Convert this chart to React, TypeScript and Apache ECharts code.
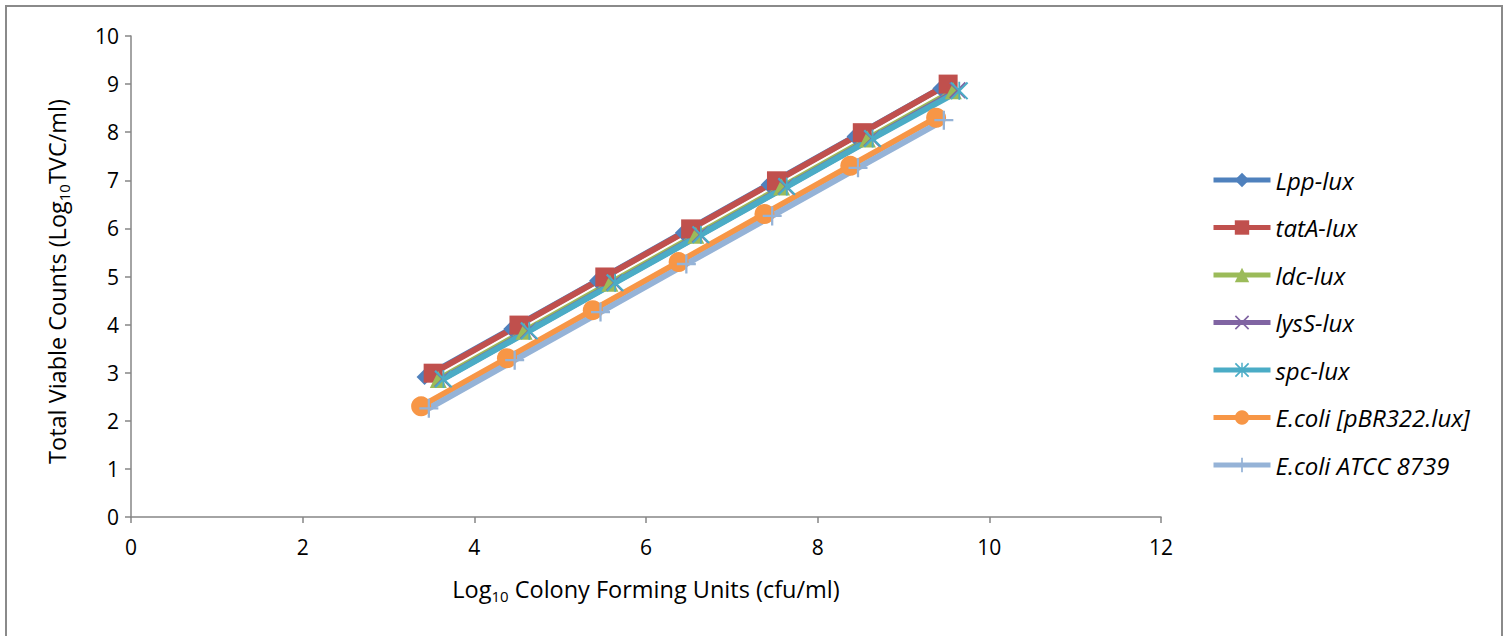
import React, { useEffect, useRef } from "react";
import * as echarts from "echarts";

const seriesNames = [
  "Lpp-lux",
  "tatA-lux",
  "ldc-lux",
  "lysS-lux",
  "spc-lux",
  "E.coli [pBR322.lux]",
  "E.coli ATCC 8739",
];

// x = Log10 CFU/ml, y = Log10 TVC/ml
const lppX = [3.42, 4.43, 5.43, 6.43, 7.43, 8.43, 9.43];
const lppY = [2.91, 3.91, 4.91, 5.91, 6.91, 7.91, 8.91];
const tatAX = [3.52, 4.52, 5.52, 6.52, 7.52, 8.52, 9.52];
const tatAY = [2.99, 3.99, 4.99, 5.99, 6.99, 7.99, 9.0];
const ldcX = [3.58, 4.58, 5.58, 6.58, 7.58, 8.58, 9.58];
const ldcY = [2.86, 3.86, 4.86, 5.86, 6.86, 7.86, 8.86];
const lysSX = [3.63, 4.63, 5.63, 6.63, 7.63, 8.63, 9.63];
const lysSY = [2.87, 3.87, 4.87, 5.87, 6.87, 7.87, 8.87];
const spcX = [3.64, 4.64, 5.64, 6.64, 7.64, 8.64, 9.65];
const spcY = [2.87, 3.87, 4.87, 5.87, 6.87, 7.87, 8.86];
const pbrX = [3.38, 4.38, 5.38, 6.38, 7.38, 8.38, 9.38];
const pbrY = [2.3, 3.3, 4.3, 5.3, 6.3, 7.3, 8.3];
const atccX = [3.47, 4.47, 5.47, 6.47, 7.47, 8.47, 9.47];
const atccY = [2.26, 3.26, 4.26, 5.26, 6.26, 7.26, 8.25];

const xTicks = [0, 2, 4, 6, 8, 10, 12];
const yTicks = [0, 1, 2, 3, 4, 5, 6, 7, 8, 9, 10];

const colors = ["#4F81BD", "#C0504D", "#9BBB59", "#8064A2", "#4BACC6", "#F79646", "#95B3D7"];

const X_PATH =
  "path://M0.8,0 L10,9.2 L9.2,10 L0,0.8 Z M9.2,0 L10,0.8 L0.8,10 L0,9.2 Z";
const AST_PATH =
  "path://M0.8,0 L10,9.2 L9.2,10 L0,0.8 Z M9.2,0 L10,0.8 L0.8,10 L0,9.2 Z M4.5,0 L5.5,0 L5.5,10 L4.5,10 Z";
const PLUS_PATH =
  "path://M4.4,0 L5.6,0 L5.6,10 L4.4,10 Z M0,4.4 L10,4.4 L10,5.6 L0,5.6 Z";

const symbols: [string, number][] = [
  ["diamond", 16],
  ["rect", 19],
  ["triangle", 17],
  [X_PATH, 17],
  [AST_PATH, 18],
  ["circle", 20],
  [PLUS_PATH, 19],
];

const pairs = (xs: number[], ys: number[]) => xs.map((x, i) => [x, ys[i]]);

const FONT = "'Open Sans', 'Noto Sans', sans-serif";

export default function App() {
  const ref = useRef<HTMLDivElement>(null);
  useEffect(() => {
    if (!ref.current) return;
    const chart = echarts.init(ref.current, undefined, { renderer: "svg" });
    const data = [
      pairs(lppX, lppY),
      pairs(tatAX, tatAY),
      pairs(ldcX, ldcY),
      pairs(lysSX, lysSY),
      pairs(spcX, spcY),
      pairs(pbrX, pbrY),
      pairs(atccX, atccY),
    ];
    const nameRich = {
      a: { fontSize: 23.5, color: "#000", fontFamily: FONT },
      s: { fontSize: 15, color: "#000", fontFamily: FONT, padding: [13, 0, 0, 0] },
    };
    chart.setOption({
      animation: false,
      color: colors,
      textStyle: { fontFamily: FONT },
      grid: { left: 131, right: 343, top: 36, bottom: 119, containLabel: false },
      graphic: [
        {
          type: "rect",
          shape: { x: 6, y: 6, width: 1496, height: 640 },
          style: { fill: "none", stroke: "#8a8a8a", lineWidth: 2 },
          silent: true,
        },
      ],
      xAxis: {
        type: "value",
        min: xTicks[0],
        max: xTicks[xTicks.length - 1],
        interval: 2,
        axisLine: { lineStyle: { color: "#868686", width: 1.5 } },
        axisTick: { show: true, length: 6, lineStyle: { color: "#868686", width: 1.5 } },
        splitLine: { show: false },
        axisLabel: { color: "#000", fontSize: 21, margin: 19, fontFamily: FONT },
        name: "{a|Log}{s|10}{a| Colony Forming Units (cfu/ml)}",
        nameLocation: "middle",
        nameGap: 58,
        nameTextStyle: { color: "#000", fontSize: 23.5, rich: nameRich },
      },
      yAxis: {
        type: "value",
        min: yTicks[0],
        max: yTicks[yTicks.length - 1],
        interval: 1,
        axisLine: { show: true, lineStyle: { color: "#868686", width: 1.5 } },
        axisTick: { show: true, length: 6, lineStyle: { color: "#868686", width: 1.5 } },
        splitLine: { show: false },
        axisLabel: { color: "#000", fontSize: 21, margin: 12, fontFamily: FONT },
        name: "{a|Total Viable Counts (Log}{s|10}{a|TVC/ml)}",
        nameLocation: "middle",
        nameRotate: 90,
        nameGap: 60,
        nameTextStyle: { color: "#000", fontSize: 23.5, rich: nameRich, padding: [0, 10, 0, 0] },
      },
      legend: {
        orient: "vertical",
        left: 1206,
        top: 163,
        itemWidth: 57,
        itemHeight: 18,
        itemGap: 23.5,
        data: seriesNames,
        lineStyle: { width: 5 },
        textStyle: { fontSize: 24, fontStyle: "italic", color: "#000", fontFamily: FONT },
      },
      series: seriesNames.map((name, i) => ({
        name,
        type: "line",
        data: data[i],
        symbol: symbols[i][0],
        symbolSize: symbols[i][1],
        showSymbol: true,
        lineStyle: { width: 6, color: colors[i] },
        itemStyle: { color: colors[i] },
        emphasis: { disabled: true },
      })),
    });
    return () => chart.dispose();
  }, []);
  return (
    <div
      ref={ref}
      style={{ position: "fixed", left: 0, top: 0, width: 1504, height: 636, background: "#fff" }}
    />
  );
}
